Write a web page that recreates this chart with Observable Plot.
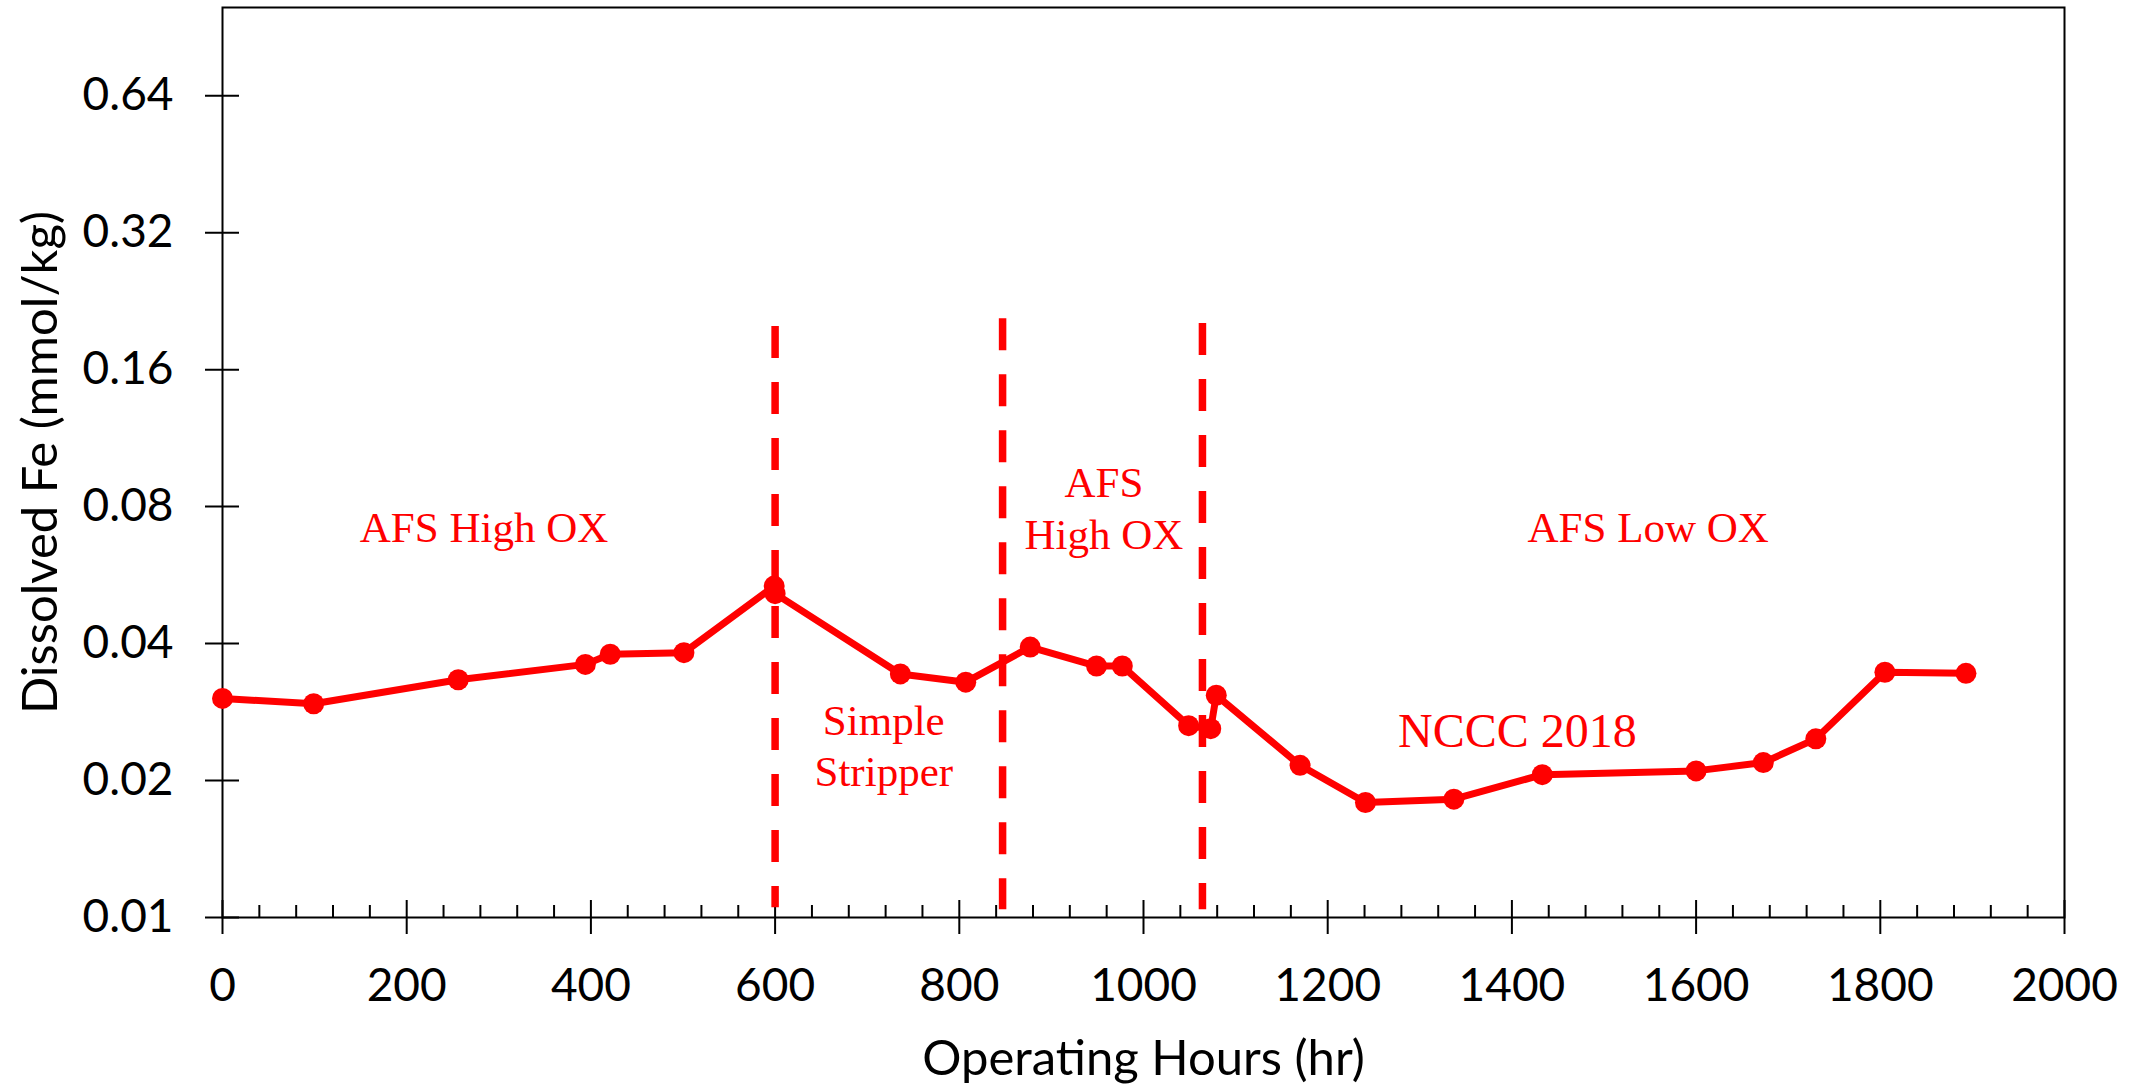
<!DOCTYPE html>
<html>
<head>
<meta charset="utf-8">
<script src="https://cdn.jsdelivr.net/npm/d3@7"></script>
<script src="https://cdn.jsdelivr.net/npm/@observablehq/plot@0.6"></script>
<style>
  html, body { margin: 0; padding: 0; background: #fff; }
  #chart { width: 2148px; height: 1085px; }
</style>
</head>
<body>
<div id="chart"></div>
<script>
// ---- data ----
const hours = [0, 99, 256, 394, 421, 501, 599, 600, 736, 807, 877, 949, 977, 1049, 1073, 1079, 1170, 1241, 1337, 1433, 1600, 1673, 1730, 1805, 1893];
const fe    = [0.0303, 0.0295, 0.0333, 0.0360, 0.0379, 0.0382, 0.0535, 0.0515, 0.0343, 0.0329, 0.0393, 0.0357, 0.0357, 0.0264, 0.0260, 0.0308, 0.0216, 0.0179, 0.0182, 0.0206, 0.0210, 0.0219, 0.0247, 0.0346, 0.0344];

const boundaryHours  = [600, 847, 1064];
const boundaryTop    = [0.199, 0.207, 0.202];
const boundaryBottom = [0.0105, 0.0104, 0.0104];

const labelText = ["AFS High OX", "Simple\nStripper", "AFS\nHigh OX", "AFS Low OX", "NCCC 2018"];
const labelHours = [284, 718, 957, 1548, 1406];
const labelFe    = [0.0727, 0.0240, 0.0800, 0.0727, 0.0260];
const labelSize  = [43, 43, 43, 43, 48];

const yTicks = [0.01, 0.02, 0.04, 0.08, 0.16, 0.32, 0.64];
const xTicks = [0, 200, 400, 600, 800, 1000, 1200, 1400, 1600, 1800, 2000];
const xMinorTicks = d3.range(0, 2001, 40).filter(v => v % 200 !== 0);

const xTitle = "Operating Hours (hr)";
const yTitle = "Dissolved Fe (mmol/kg)";

// ---- tables ----
const points = hours.map((h, i) => ({h, fe: fe[i]}));
const bounds = boundaryHours.map((h, i) => ({h, top: boundaryTop[i], bottom: boundaryBottom[i]}));
const labels = labelText.map((t, i) => ({t, h: labelHours[i], fe: labelFe[i], size: labelSize[i]}));

const sans = "Lato, 'Open Sans', sans-serif";
const serif = "'Liberation Serif', 'Times New Roman', serif";
const red = "#ff0000";

const chart = Plot.plot({
  width: 2148,
  height: 1085,
  marginLeft: 222,
  marginRight: 84,
  marginTop: 7,
  marginBottom: 168,
  style: {background: "white", fontFamily: sans, color: "black", overflow: "visible"},
  x: {domain: [0, 2000]},
  y: {type: "log", base: 2, domain: [0.01, 1]},
  marks: [
    // y axis: crossing tick marks, then labels
    Plot.axisY({ticks: yTicks, tickSize: 34, dx: 17, tickFormat: () => "", strokeWidth: 2, label: null}),
    Plot.axisY({ticks: yTicks, tickSize: 0, tickPadding: 49, tickFormat: d => d.toFixed(2), fontSize: 46, fontFamily: sans, label: null}),
    // x axis: major crossing ticks, minor inside ticks, labels
    Plot.axisX({ticks: xTicks, tickSize: 34, dy: -17, tickFormat: () => "", strokeWidth: 2, label: null}),
    Plot.axisX({ticks: xMinorTicks, tickSize: 12, dy: -12, tickFormat: () => "", strokeWidth: 2, label: null}),
    Plot.axisX({ticks: xTicks, tickSize: 0, tickPadding: 51, tickFormat: d => String(d), fontSize: 46, fontFamily: sans, label: null}),
    Plot.frame({stroke: "black", strokeWidth: 2}),
    // axis titles
    Plot.text([xTitle], {frameAnchor: "bottom", dy: 142, text: d => d, textAnchor: "middle", lineAnchor: "middle", fontSize: 49, fontFamily: sans, fill: "black"}),
    Plot.text([yTitle], {frameAnchor: "left", dx: -181, text: d => d, rotate: -90, textAnchor: "middle", lineAnchor: "middle", fontSize: 49, fontFamily: sans, fill: "black"}),
    // phase boundaries
    Plot.ruleX(bounds, {x: "h", y1: "top", y2: "bottom", stroke: red, strokeWidth: 7.5, strokeDasharray: "32,24"}),
    // series
    Plot.line(points, {x: "h", y: "fe", stroke: red, strokeWidth: 7, curve: "linear"}),
    Plot.dot(points, {x: "h", y: "fe", r: 10.5, fill: red, stroke: "none"}),
    // annotations
    Plot.text(labels, {x: "h", y: "fe", text: "t", fontSize: "size", fontFamily: serif, fill: red, lineHeight: 1.19, lineAnchor: "middle"})
  ]
});

document.getElementById("chart").appendChild(chart);
</script>
</body>
</html>
